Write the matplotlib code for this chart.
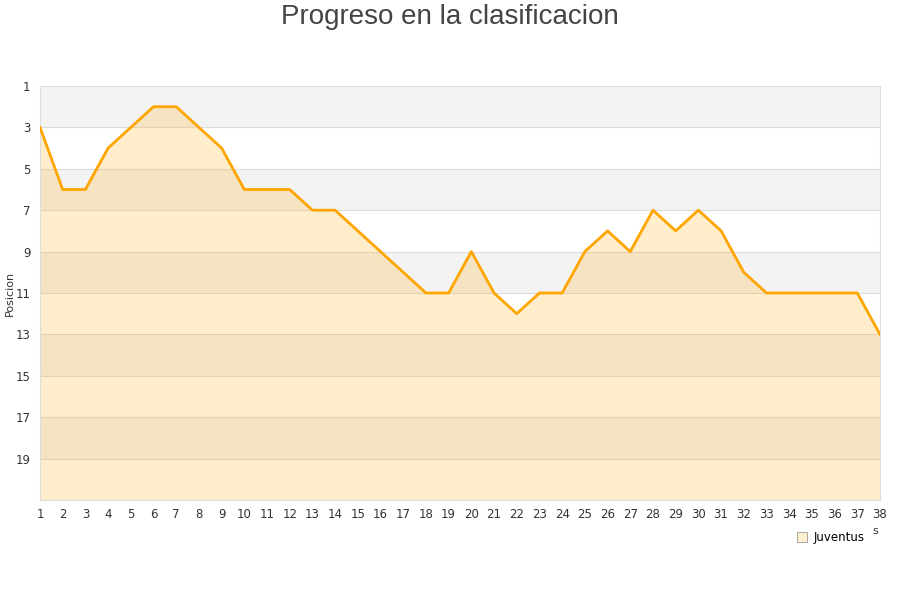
import matplotlib
matplotlib.use("Agg")
import matplotlib.pyplot as plt
from matplotlib.lines import Line2D

jornadas = list(range(1, 39))
posiciones = [3, 6, 6, 4, 3, 2, 2, 3, 4, 6, 6, 6, 7, 7, 8, 9, 10, 11, 11, 9,
              11, 12, 11, 11, 9, 8, 9, 7, 8, 7, 8, 10, 11, 11, 11, 11, 11, 13]
y_ticks = [1, 3, 5, 7, 9, 11, 13, 15, 17, 19]
equipo = "Juventus"

fig = plt.figure(figsize=(9, 6), dpi=100)
ax = fig.add_axes([40/900, 1-500/600, 840/900, 414/600])

ymin, ymax = 1, 21
for i, y0 in enumerate(range(1, 21, 2)):
    col = "#f3f3f3" if i % 2 == 0 else "#ffffff"
    ax.axhspan(y0, y0 + 2, color=col, zorder=0, lw=0)
for y in range(3, 21, 2):
    ax.axhline(y, color="#dddddd", lw=0.8, zorder=1)

ax.fill_between(jornadas, posiciones, ymax, color="#ffa500", alpha=0.2, lw=0, zorder=2)
ax.plot(jornadas, posiciones, color="#ffa500", lw=2, zorder=3)

ax.set_xlim(1, 38)
ax.set_ylim(ymax, ymin)
ax.set_yticks(y_ticks)
ax.set_xticks(jornadas)
ax.tick_params(axis="both", length=0, labelsize=8.5, colors="#333333", pad=6)
ax.tick_params(axis="y", pad=7)
for s in ax.spines.values():
    s.set_color("#dddddd")
    s.set_linewidth(0.8)

ax.set_ylabel("Posicion", fontsize=8, color="#333333")
ax.yaxis.set_label_coords(-25/840, 0.5)

fig.text(0.5, 0.993, "Progreso en la clasificacion", ha="center", va="top",
         fontsize=20, color="#444444", family="Liberation Sans")
fig.text(875/900, 1-531/600, "s", ha="center", va="center", fontsize=8, color="#333333")

handle = Line2D([], [], marker="s", ls="none", markersize=7,
                markerfacecolor="#fff0d0", markeredgecolor="#999999", markeredgewidth=0.6)
fig.legend([handle], [equipo], loc="center", bbox_to_anchor=(830/900, 1-538/600),
           frameon=False, fontsize=8.5, handletextpad=0.5, borderpad=0, handlelength=1)

fig.savefig("out.png", dpi=100)
